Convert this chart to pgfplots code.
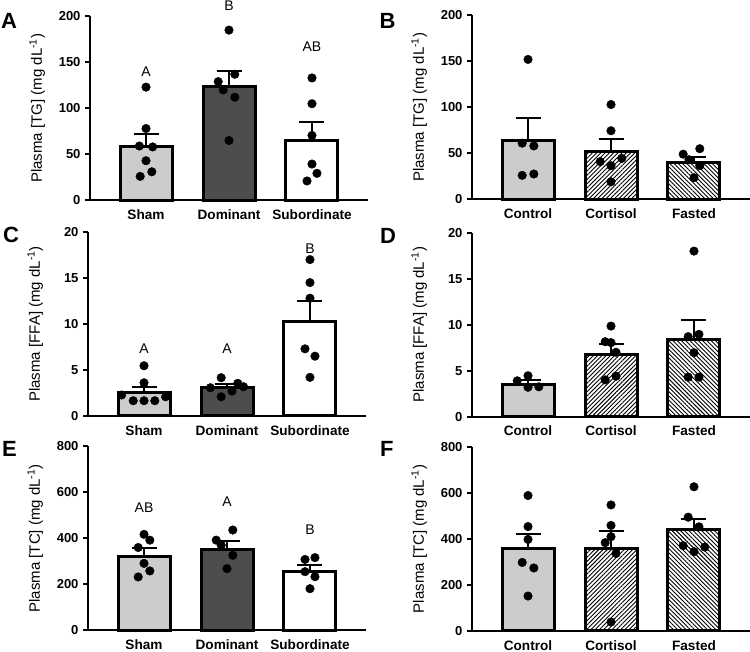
\documentclass[border=0pt]{standalone}
\usepackage{fontspec}
\setmainfont{Liberation Sans}
\usepackage{pgfplots}
\pgfplotsset{compat=1.18}
\usetikzlibrary{patterns.meta}
\definecolor{lg}{RGB}{204,204,204}
\definecolor{dg}{RGB}{77,77,77}
\pgfplotsset{
 panel/.style={
   scale only axis, width=278pt, height=184pt, anchor=south west,
   axis x line*=bottom, axis y line*=left,
   axis line style={line width=2pt},
   xmin=-0.675, xmax=2.675, ymin=0,
   xtick={0,1,2}, major x tick style={draw=none},
   major y tick style={line width=1.8pt, black},
   tick align=outside, major tick length=5pt,
   /pgf/number format/assume math mode=true,
   yticklabel style={font=\bfseries\fontsize{13}{13}\selectfont, xshift=-1pt},
   xticklabel style={font=\bfseries\fontsize{13.6}{13.6}\selectfont, inner sep=1pt, yshift=-3pt},
   ylabel style={at={(axis description cs:-0.19,0.5)}, anchor=center, font=\fontsize{15}{15}\selectfont},
   clip=false,
 },
 bb/.style={ybar, bar width=52pt, bar shift=0pt, draw=black, line width=3pt,
   /pgfplots/error bars/y dir=plus, /pgfplots/error bars/y explicit,
   /pgfplots/error bars/error bar style={line width=2pt, black},
   /pgfplots/error bars/error mark options={rotate=90, line width=2pt, mark size=12.5pt, black}},
 dots/.style={only marks, mark=*, mark size=4.3pt, black},
 ne/.style={pattern={Lines[angle=45,distance=3pt,line width=0.9pt]}},
 nw/.style={pattern={Lines[angle=-45,distance=3pt,line width=0.9pt]}},
}
\newcommand{\lett}[3]{\node[font=\fontsize{14}{14}\selectfont] at (axis cs:#1,#2) {#3};}
\begin{document}
\begin{tikzpicture}[x=1pt,y=1pt]
\path[use as bounding box] (0,0) rectangle (750,652);
% A
\begin{axis}[panel, at={(90pt,451.7pt)}, ymax=200, ytick={0,50,100,150,200},
  xticklabels={Sham,Dominant,Subordinate}, ylabel={Plasma [TG] (mg dL\textsuperscript{-1})}]
\addplot[bb, fill=lg] coordinates {(0,58.2) +- (0,13.4)};
\addplot[bb, fill=dg] coordinates {(1,123.7) +- (0,16.6)};
\addplot[bb, fill=white] coordinates {(2,65.5) +- (0,19.5)};
\addplot[dots] coordinates {(0,123)(0,78)(-0.08,59)(0.08,58)(0,43)(-0.07,26)(0.07,31)
 (1,185)(0.87,129)(1.07,137)(0.93,120)(1.07,112)(1,65)
 (2,133)(2,105)(2,70.5)(2,39.4)(2.06,29.3)(1.94,21)};
\lett{0}{140}{A}\lett{1}{212}{B}\lett{2}{166.7}{AB}
\end{axis}
% B
\begin{axis}[panel, at={(472pt,452.7pt)}, ymax=200, ytick={0,50,100,150,200},
  xticklabels={Control,Cortisol,Fasted}, ylabel={Plasma [TG] (mg dL\textsuperscript{-1})}]
\addplot[bb, fill=lg] coordinates {(0,64.4) +- (0,23.8)};
\addplot[bb, ne] coordinates {(1,52.4) +- (0,13.4)};
\addplot[bb, nw] coordinates {(2,40.5) +- (0,5.8)};
\addplot[dots] coordinates {(0,152)(-0.07,61)(0.07,58)(-0.07,26)(0.07,27.5)
 (1,103)(1,74.5)(0.87,41)(1.13,44.5)(1,36.5)(1,19)
 (1.87,49)(2.07,55)(1.94,43)(2.07,36.5)(2,23.5)};
\end{axis}
% C
\begin{axis}[panel, at={(88pt,236pt)}, ymax=20, ytick={0,5,10,15,20},
  xticklabels={Sham,Dominant,Subordinate}, ylabel={Plasma [FFA] (mg dL\textsuperscript{-1})}]
\addplot[bb, fill=lg] coordinates {(0,2.53) +- (0,0.62)};
\addplot[bb, fill=dg] coordinates {(1,3.07) +- (0,0.37)};
\addplot[bb, fill=white] coordinates {(2,10.3) +- (0,2.18)};
\addplot[dots] coordinates {(-0.27,2.28)(-0.13,1.66)(0,1.66)(0.13,1.66)(0.26,2.09)(0,3.61)(0,5.46)
 (0.8,3.07)(0.93,4.16)(0.93,2.09)(1.06,2.71)(1.13,3.55)(1.2,3.18)
 (2,17)(2,14.5)(2,12.8)(1.94,7.3)(2.06,6.5)(2,4.2)};
\lett{0}{7.34}{A}\lett{1}{7.34}{A}\lett{2}{18.2}{B}
\end{axis}
% D
\begin{axis}[panel, at={(472pt,235.3pt)}, ymax=20, ytick={0,5,10,15,20},
  xticklabels={Control,Cortisol,Fasted}, ylabel={Plasma [FFA] (mg dL\textsuperscript{-1})}]
\addplot[bb, fill=lg] coordinates {(0,3.54) +- (0,0.46)};
\addplot[bb, ne] coordinates {(1,6.76) +- (0,1.09)};
\addplot[bb, nw] coordinates {(2,8.43) +- (0,2.13)};
\addplot[dots] coordinates {(0,4.45)(-0.13,3.9)(0,3.2)(0.13,3.25)
 (1,9.85)(0.93,8.15)(1,8.05)(1.06,7.0)(0.93,4.0)(1.06,4.4)
 (2,18)(1.93,8.7)(2.06,8.95)(2,6.95)(1.93,4.3)(2.06,4.3)};
\end{axis}
% E
\begin{axis}[panel, at={(88pt,21.7pt)}, ymax=800, ytick={0,200,400,600,800},
  xticklabels={Sham,Dominant,Subordinate}, ylabel={Plasma [TC] (mg dL\textsuperscript{-1})}]
\addplot[bb, fill=lg] coordinates {(0,322.6) +- (0,33.4)};
\addplot[bb, fill=dg] coordinates {(1,353) +- (0,34.8)};
\addplot[bb, fill=white] coordinates {(2,254.7) +- (0,28.9)};
\addplot[dots] coordinates {(0,417)(0.07,392)(-0.07,360)(0,291)(0.07,258)(-0.07,232)
 (1.07,436)(0.87,392)(0.93,370)(1.07,326)(1,268)
 (1.94,308)(2.06,316)(1.94,255)(2.06,233)(2,181)};
\lett{0}{532}{AB}\lett{1}{558}{A}\lett{2}{438}{B}
\end{axis}
% F
\begin{axis}[panel, at={(472pt,21pt)}, ymax=800, ytick={0,200,400,600,800},
  xticklabels={Control,Cortisol,Fasted}, ylabel={Plasma [TC] (mg dL\textsuperscript{-1})}]
\addplot[bb, fill=lg] coordinates {(0,357.3) +- (0,65.1)};
\addplot[bb, ne] coordinates {(1,360) +- (0,75.6)};
\addplot[bb, nw] coordinates {(2,440) +- (0,46)};
\addplot[dots] coordinates {(0,589)(0,454)(0,398)(-0.07,298)(0.07,274)(0,152)
 (1,548)(1,459)(1,410)(0.93,384)(1.06,337)(1,39)
 (2,627)(1.93,495)(2.06,453)(1.87,371)(2,345)(2.13,365)};
\end{axis}
\begin{scope}[every node/.style={anchor=base west, inner sep=0pt, font=\bfseries\fontsize{22}{22}\selectfont}]
\node at (1,623.7) {A};
\node at (379.5,623.7) {B};
\node at (3,409) {C};
\node at (380,408.7) {D};
\node at (2,195) {E};
\node at (380,195) {F};
\end{scope}
\end{tikzpicture}
\end{document}
